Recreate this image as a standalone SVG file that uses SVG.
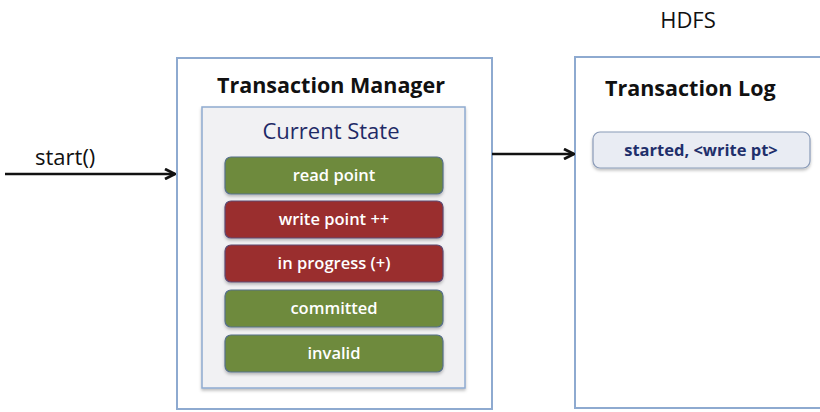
<svg xmlns="http://www.w3.org/2000/svg" width="820" height="412" viewBox="0 0 820 412">
<style>
.box{fill:#ffffff;stroke:#8eaad0;stroke-width:2}
.inner{fill:#f1f1f3;stroke:#8eaad0;stroke-width:1.5}
.title{font-family:"Open Sans","Liberation Sans",sans-serif;font-weight:bold;font-size:21.5px;fill:#111}
.cs{font-family:"Open Sans","Liberation Sans",sans-serif;font-size:22px;fill:#1f2a66}
.green{fill:#6e8a3c;stroke:#56708a;stroke-width:1.2}
.red{fill:#9a2d2f;stroke:#5e4a72;stroke-width:1.2}
.pt{font-family:"Open Sans","Liberation Sans",sans-serif;font-weight:600;font-size:16.5px;fill:#fff;text-anchor:middle}
.lbl{font-family:"Open Sans","Liberation Sans",sans-serif;font-size:22px;fill:#111}
.conn{stroke:#111;stroke-width:2.5;fill:none}
</style>
<defs>
<marker id="ah" viewBox="0 0 10 10" refX="9" refY="5" markerWidth="5" markerHeight="5" orient="auto" markerUnits="strokeWidth">
<path d="M1,1 L9,5 L1,9" fill="none" stroke="#111" stroke-width="2.2"/>
</marker>
<filter id="sh" x="-10%" y="-20%" width="120%" height="150%">
<feDropShadow dx="0" dy="2" stdDeviation="1.5" flood-color="#000" flood-opacity="0.25"/>
</filter>
</defs>
<rect width="820" height="412" fill="#fff"/>
<text class="lbl" x="688" y="28" text-anchor="middle">HDFS</text>
<g id="transaction-manager">
<rect class="box" x="177" y="58" width="315" height="351"/>
<text class="title" x="331" y="93" text-anchor="middle">Transaction Manager</text>
</g>
<g id="current-state">
<rect class="inner" x="202" y="107" width="263" height="281" filter="url(#sh)"/>
<text class="cs" x="331" y="139" text-anchor="middle">Current State</text>
</g>
<g id="read-point"><rect class="green" x="225" y="157" width="218" height="37" rx="6" filter="url(#sh)"/><text class="pt" x="334" y="181">read point</text></g>
<g id="write-point"><rect class="red" x="225" y="201" width="218" height="37" rx="6" filter="url(#sh)"/><text class="pt" x="334" y="225">write point ++</text></g>
<g id="in-progress"><rect class="red" x="225" y="245" width="218" height="37" rx="6" filter="url(#sh)"/><text class="pt" x="334" y="269">in progress (+)</text></g>
<g id="committed"><rect class="green" x="225" y="290" width="218" height="37" rx="6" filter="url(#sh)"/><text class="pt" x="334" y="314">committed</text></g>
<g id="invalid"><rect class="green" x="225" y="335" width="218" height="37" rx="6" filter="url(#sh)"/><text class="pt" x="334" y="359">invalid</text></g>
<g id="transaction-log">
<rect class="box" x="575" y="57" width="260" height="351"/>
<text class="title" x="605" y="96">Transaction Log</text>
</g>
<g id="log-entry">
<rect x="593" y="132" width="217" height="36" rx="7" fill="#e9ecf3" stroke="#8a9bb8" stroke-width="1.2" filter="url(#sh)"/>
<text x="701" y="156" text-anchor="middle" font-family="Open Sans, Liberation Sans, sans-serif" font-weight="bold" font-size="16.5" fill="#1f2f6b">started, &lt;write pt&gt;</text>
</g>
<g id="connectors">
<line class="conn" x1="5" y1="174" x2="175" y2="174" marker-end="url(#ah)"/>
<text class="lbl" x="35" y="165">start()</text>
<line class="conn" x1="492" y1="154" x2="574" y2="154" marker-end="url(#ah)"/>
</g>
</svg>
